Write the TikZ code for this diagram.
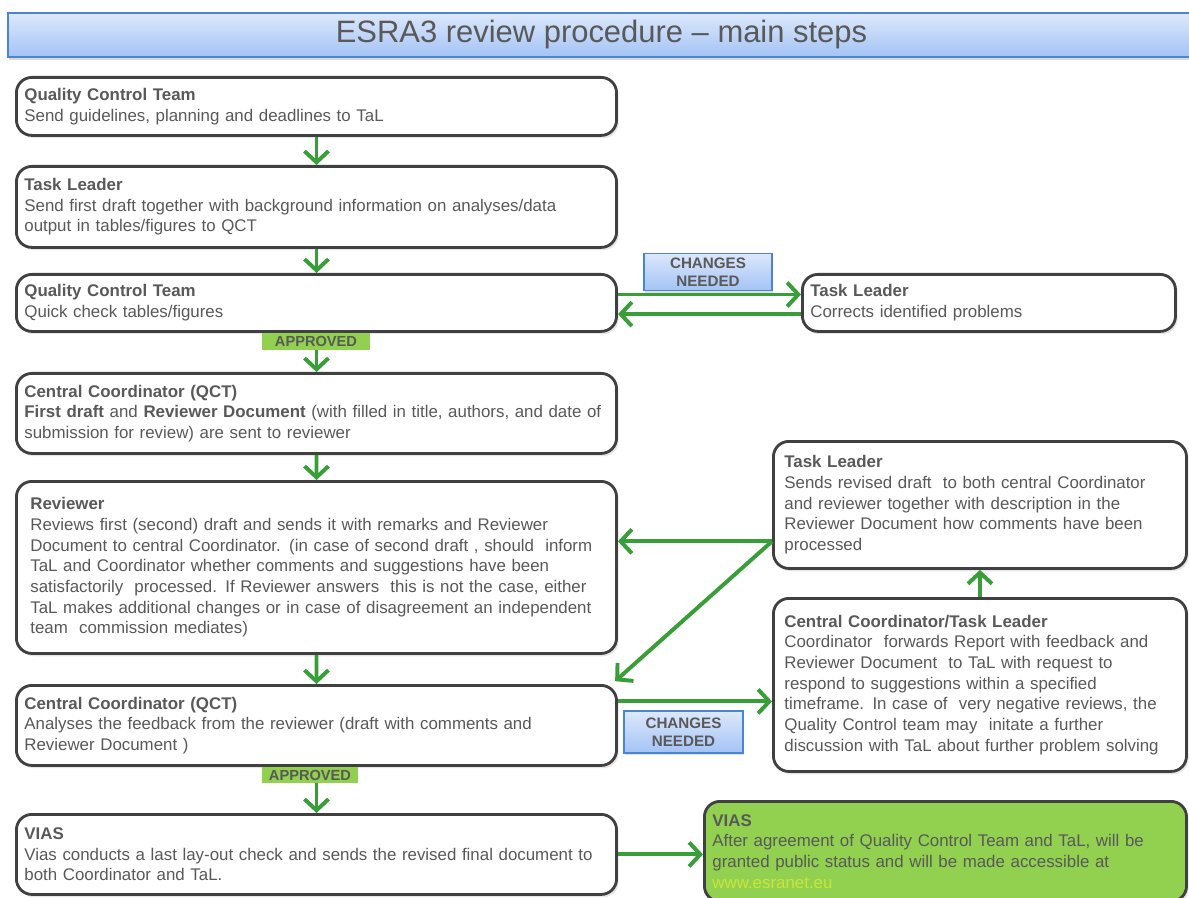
\documentclass[tikz,border=0pt]{standalone}
\usepackage{fontspec}
\setmainfont{Liberation Sans}
\usepackage{tikz}
\usetikzlibrary{arrows.meta, positioning, shadows}
\definecolor{txtgray}{HTML}{595959}
\definecolor{boxline}{HTML}{404040}
\definecolor{flowgreen}{RGB}{56,158,56}
\definecolor{okgreen}{HTML}{92D050}
\definecolor{linkgreen}{RGB}{200,230,60}
\definecolor{bluetop}{HTML}{DDE8FB}
\definecolor{bluebot}{HTML}{A3C3F5}
\definecolor{blueline}{HTML}{4A86D0}
\hyphenpenalty=10000

\begin{document}
\begin{tikzpicture}[
    x=0.025cm, y=-0.025cm,
    every node/.style={font=\fontsize{12}{14.7}\selectfont, text=txtgray},
    % Step boxes
    stepbox/.style={
      rectangle, draw=boxline, line width=2pt, rounded corners=11pt,
      fill=white, anchor=north west, align=left,
      inner xsep=0.2cm, inner ysep=0pt,
      drop shadow={opacity=0.2, shadow xshift=1.5pt, shadow yshift=-2pt}
    },
    % Final box
    donebox/.style={stepbox, fill=okgreen},
    % Title bar
    titlebar/.style={
      rectangle, draw=blueline, line width=1pt,
      top color=bluetop, bottom color=bluebot,
      minimum width=29.675cm, minimum height=1.1cm,
      font=\fontsize{22}{26}\selectfont,
      drop shadow={opacity=0.3, shadow xshift=1pt, shadow yshift=-2pt}
    },
    % Flow arrow
    flow/.style={draw=flowgreen, line width=2.8pt,
      -{Straight Barb[length=2.8mm, width=6mm]}},
    % Decision labels
    changelbl/.style={
      rectangle, draw=blueline, line width=0.8pt,
      top color=bluetop, bottom color=bluebot,
      align=center, inner sep=0pt,
      font=\bfseries\fontsize{10.8}{12.4}\selectfont,
      drop shadow={opacity=0.25, shadow xshift=1pt, shadow yshift=-1.5pt}
    },
    oklbl/.style={
      rectangle, fill=okgreen, inner sep=0pt,
      font=\bfseries\fontsize{10.4}{12}\selectfont
    }
  ]
  \useasboundingbox (0,0) rectangle (1189,898);

  % ============ Title ============
  \node[titlebar] (title) at (601.5,35) {ESRA3 review procedure -- main steps};

  % ============ Main column ============
  \node[stepbox, text width=14.6cm, minimum height=1.45cm] (qctsend) at (15,76)
    {\textbf{Quality Control Team}\\
     Send guidelines, planning and deadlines to TaL};
  \node[stepbox, text width=14.6cm, minimum height=2.025cm] (tldraft) at (15,165)
    {\textbf{Task Leader}\\
     Send first draft together with background information on analyses/data\\
     output in tables/figures to QCT};
  \node[stepbox, text width=14.6cm, minimum height=1.425cm] (qctcheck) at (15,273)
    {\textbf{Quality Control Team}\\
     Quick check tables/figures};
  \node[stepbox, text width=14.6cm, minimum height=2.0cm] (ccsend) at (15,372)
    {\textbf{Central Coordinator (QCT)}\\
     \textbf{First draft} and \textbf{Reviewer Document} (with filled in title, authors, and date of\\
     submission for review) are sent to reviewer};
  \node[stepbox, text width=14.3cm, inner xsep=0.35cm, minimum height=4.3cm] (reviewer) at (15,480)
    {\textbf{Reviewer}\\
     Reviews first (second) draft and sends it with remarks and Reviewer\\
     Document to central Coordinator. (in case of second draft , should\ \ inform\\
     TaL and Coordinator whether comments and suggestions have been\\
     satisfactorily\ \ processed. If Reviewer answers\ \ this is not the case, either\\
     TaL makes additional changes or in case of disagreement an independent\\
     team\ \ commission mediates)};
  \node[stepbox, text width=14.6cm, minimum height=2.0cm] (ccanalyse) at (15,684)
    {\textbf{Central Coordinator (QCT)}\\
     Analyses the feedback from the reviewer (draft with comments and\\
     Reviewer Document )};
  \node[stepbox, text width=14.6cm, minimum height=2.0cm] (viascheck) at (15,813)
    {\textbf{VIAS}\\
     Vias conducts a last lay-out check and sends the revised final document to\\
     both Coordinator and TaL.};

  % ============ Side boxes ============
  \node[stepbox, text width=8.925cm, minimum height=1.425cm] (tlfix) at (801,273)
    {\textbf{Task Leader}\\
     Corrects identified problems};
  \node[stepbox, text width=9.775cm, inner xsep=0.275cm, minimum height=3.175cm] (tlrevise) at (772,440)
    {\textbf{Task Leader}\\
     Sends revised draft\ \ to both central Coordinator\\
     and reviewer together with description in the\\
     Reviewer Document how comments have been\\
     processed};
  \node[stepbox, text width=9.775cm, inner xsep=0.275cm, minimum height=4.325cm] (cctl) at (772,597)
    {\textbf{Central Coordinator/Task Leader}\\
     Coordinator\ \ forwards Report with feedback and\\
     Reviewer Document\ \ to TaL with request to\\
     respond to suggestions within a specified\\
     timeframe. In case of\ \ very negative reviews, the\\
     Quality Control team may\ \ initate a further\\
     discussion with TaL about further problem solving};
  \node[donebox, text width=11.65cm, minimum height=2.5cm] (viaspublic) at (703,800)
    {\textbf{VIAS}\\
     After agreement of Quality Control Team and TaL, will be\\
     granted public status and will be made accessible at\\
     \textcolor{linkgreen}{www.esranet.eu}};

  % ============ Arrows ============
  \draw[flow] (qctsend.south) -- (tldraft.north);
  \draw[flow] (tldraft.south) -- (qctcheck.north);
  \draw[flow] (qctcheck.south) -- (ccsend.north);
  \draw[flow] (ccsend.south) -- (reviewer.north);
  \draw[flow] (reviewer.south) -- (ccanalyse.north);
  \draw[flow] (ccanalyse.south) -- (viascheck.north);
  \draw[flow] ([yshift=0.21cm]qctcheck.east) -- ([yshift=0.21cm]tlfix.west);
  \draw[flow] ([yshift=-0.28cm]tlfix.west) -- ([yshift=-0.28cm]qctcheck.east);
  \coordinate (revfork) at ([yshift=-0.91cm]tlrevise.west);
  \draw[flow] (revfork) -- (revfork -| reviewer.east);
  \draw[flow] (revfork) -- ([xshift=-2pt, yshift=2pt]ccanalyse.north east);
  \coordinate (anfork) at ([yshift=0.6cm]ccanalyse.east);
  \draw[flow] (anfork) -- (anfork -| cctl.west);
  \draw[flow] (cctl.north) -- (tlrevise.south);
  \draw[flow] (viascheck.east) -- (viascheck.east -| viaspublic.west);

  % ============ Decision labels ============
  \node[changelbl, minimum width=3.2cm, minimum height=0.925cm] (chg1) at (708,272) {CHANGES\\NEEDED};
  \node[changelbl, minimum width=2.975cm, minimum height=1.05cm] (chg2) at (683.5,732) {CHANGES\\NEEDED};
  \node[oklbl, minimum width=2.7cm, minimum height=0.425cm] (ok1) at (316,341.5) {APPROVED};
  \node[oklbl, minimum width=2.4cm, minimum height=0.4cm] (ok2) at (310,775) {APPROVED};

\end{tikzpicture}
\end{document}
